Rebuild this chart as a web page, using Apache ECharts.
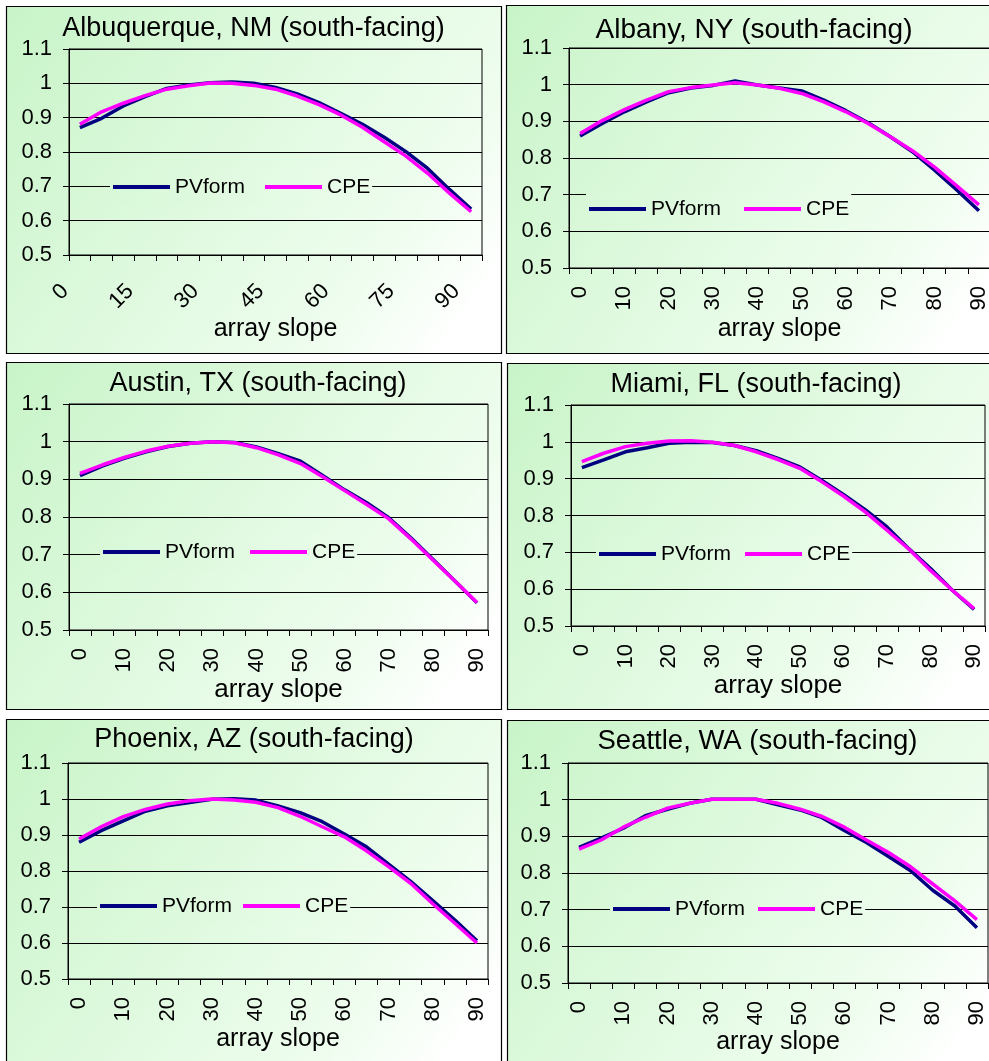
<!DOCTYPE html>
<html>
<head>
<meta charset="utf-8">
<script src="https://cdn.jsdelivr.net/npm/echarts@6/dist/echarts.min.js"></script>
<style>
html,body{margin:0;padding:0;background:#fff;overflow:hidden;}
#chart{width:989px;height:1061px;}
</style>
</head>
<body>
<div id="chart"></div>
<script>
// ---------- DATA ----------
const slopes = ['0','5','10','15','20','25','30','35','40','45','50','55','60','65','70','75','80','85','90'];
const seriesNames = ['PVform', 'CPE'];
const axisTitle = 'array slope';
const yTicks = [0.5, 0.6, 0.7, 0.8, 0.9, 1.0, 1.1];

const titleAlbuquerque = 'Albuquerque, NM (south-facing)';
const pvAlbuquerque  = [0.871,0.898,0.934,0.961,0.985,0.995,1.002,1.004,1.000,0.988,0.969,0.944,0.913,0.881,0.843,0.801,0.752,0.691,0.634];
const cpeAlbuquerque = [0.881,0.917,0.942,0.964,0.983,0.993,1.001,1.000,0.994,0.983,0.963,0.938,0.908,0.872,0.830,0.788,0.738,0.680,0.626];

const titleAlbany = 'Albany, NY (south-facing)';
const pvAlbany  = [0.860,0.894,0.926,0.953,0.978,0.991,0.998,1.010,0.999,0.991,0.983,0.958,0.929,0.896,0.858,0.817,0.767,0.713,0.656];
const cpeAlbany = [0.867,0.902,0.932,0.958,0.981,0.992,0.999,1.005,0.999,0.990,0.976,0.953,0.926,0.894,0.858,0.820,0.775,0.724,0.672];

const titleAustin = 'Austin, TX (south-facing)';
const pvAustin  = [0.910,0.935,0.956,0.973,0.987,0.996,1.000,0.998,0.986,0.968,0.948,0.910,0.872,0.838,0.798,0.745,0.688,0.630,0.572];
const cpeAustin = [0.916,0.938,0.958,0.975,0.988,0.996,1.000,0.997,0.984,0.965,0.942,0.907,0.870,0.833,0.795,0.742,0.686,0.630,0.573];

const titleMiami = 'Miami, FL (south-facing)';
const pvMiami  = [0.930,0.951,0.973,0.984,0.996,0.999,0.998,0.990,0.976,0.955,0.932,0.896,0.857,0.816,0.769,0.710,0.656,0.597,0.545];
const cpeMiami = [0.946,0.969,0.987,0.996,1.002,1.003,0.999,0.990,0.973,0.952,0.928,0.892,0.853,0.810,0.760,0.709,0.651,0.597,0.547];

const titlePhoenix = 'Phoenix, AZ (south-facing)';
const pvPhoenix  = [0.880,0.912,0.939,0.966,0.981,0.990,0.999,1.001,0.997,0.981,0.962,0.937,0.903,0.867,0.819,0.771,0.718,0.664,0.606];
const cpePhoenix = [0.889,0.923,0.951,0.971,0.986,0.995,1.000,0.997,0.991,0.976,0.952,0.923,0.895,0.856,0.812,0.766,0.709,0.655,0.600];

const titleSeattle = 'Seattle, WA (south-facing)';
const pvSeattle  = [0.870,0.895,0.922,0.956,0.974,0.990,1.001,1.001,1.001,0.986,0.972,0.951,0.916,0.883,0.845,0.806,0.753,0.710,0.651];
const cpeSeattle = [0.865,0.890,0.925,0.952,0.977,0.990,1.001,1.001,1.001,0.990,0.974,0.954,0.925,0.890,0.856,0.817,0.770,0.724,0.673];

// ---------- LAYOUT / STYLE ----------
const FONT = "'Liberation Sans', Arial, sans-serif";
const PV_COLOR = '#000080';
const CPE_COLOR = '#ff00ff';
const panelStops = [[0,'#c8f4c8'],[0.4,'#ddf9dd'],[0.75,'#effdef'],[0.92,'#ffffff'],[1,'#ffffff']];

const panels = [
  {title:titleAlbuquerque, pv:pvAlbuquerque, cpe:cpeAlbuquerque, titleSize:27,
   box:[6,6,495,347], grid:[69,49,413,206], titleX:253.5, titleTop:15,
   labelInterval:2, labelRotate:45, labelMargin:18, labelPad:[0,21,0,0], nameGap:62, nameSize:25,
   legendX:113, legendCY:187, legendGap:20},
  {title:titleAlbany, pv:pvAlbany, cpe:cpeAlbany, titleSize:28,
   box:[506,5,495,348], grid:[569,48,421,220], titleX:754, titleTop:16,
   labelInterval:1, labelRotate:90, labelMargin:18, labelPad:0, nameGap:49, nameSize:25,
   legendX:589, legendCY:209, legendGap:23},
  {title:titleAustin, pv:pvAustin, cpe:cpeAustin, titleSize:27,
   box:[6,362,495,347], grid:[69,404,419,226], titleX:258, titleTop:370,
   labelInterval:1, labelRotate:90, labelMargin:18, labelPad:0, nameGap:42, nameSize:26,
   legendX:103, legendCY:552, legendGap:15},
  {title:titleMiami, pv:pvMiami, cpe:cpeMiami, titleSize:27,
   box:[507,363,495,346], grid:[571,405,414,221], titleX:756, titleTop:371,
   labelInterval:1, labelRotate:90, labelMargin:18, labelPad:0, nameGap:46, nameSize:26,
   legendX:599, legendCY:554, legendGap:14},
  {title:titlePhoenix, pv:pvPhoenix, cpe:cpePhoenix, titleSize:27,
   box:[6,719,495,350], grid:[68,763,420,216], titleX:254, titleTop:726,
   labelInterval:1, labelRotate:90, labelMargin:18, labelPad:0, nameGap:48, nameSize:25,
   legendX:100, legendCY:906, legendGap:11},
  {title:titleSeattle, pv:pvSeattle, cpe:cpeSeattle, titleSize:27.5,
   box:[507,720,495,350], grid:[568,763,420,220], titleX:757.5, titleTop:727,
   labelInterval:1, labelRotate:90, labelMargin:18, labelPad:0, nameGap:44, nameSize:25,
   legendX:613, legendCY:909, legendGap:13}
];

function hexToRgb(h){return [parseInt(h.substr(1,2),16),parseInt(h.substr(3,2),16),parseInt(h.substr(5,2),16)];}
function stopColor(t){
  t = Math.max(0, Math.min(1, t));
  for (let i = 1; i < panelStops.length; i++) {
    if (t <= panelStops[i][0]) {
      const a = panelStops[i-1], b = panelStops[i];
      const f = (t - a[0]) / ((b[0] - a[0]) || 1);
      const ca = hexToRgb(a[1]), cb = hexToRgb(b[1]);
      return 'rgb(' + ca.map((v,k)=>Math.round(v + (cb[k]-v)*f)).join(',') + ')';
    }
  }
  return panelStops[panelStops.length-1][1];
}
function colorAt(box, px, py){
  const [x0,y0,w,h] = box;
  const t = ((px-x0)*w + (py-y0)*h) / (w*w + h*h);
  return stopColor(t);
}
function panelGradient(){
  return {type:'linear', x:0, y:0, x2:1, y2:1,
    colorStops: panelStops.map(s=>({offset:s[0], color:s[1]}))};
}

const option = {
  animation:false,
  backgroundColor:'#ffffff',
  graphic:[], title:[], legend:[], grid:[], xAxis:[], yAxis:[], series:[]
};

panels.forEach((p, i) => {
  const [bx,by,bw,bh] = p.box;
  option.graphic.push({
    type:'rect', z:-10, silent:true,
    shape:{x:bx+0.5, y:by+0.5, width:bw, height:bh},
    style:{fill:panelGradient(), stroke:'#000', lineWidth:1.2}
  });
  option.title.push({
    text:p.title, left:p.titleX, top:p.titleTop, textAlign:'center', padding:0,
    textStyle:{fontFamily:FONT, fontSize:p.titleSize, fontWeight:'normal', color:'#000'}
  });
  const [gl,gt,gw,gh] = p.grid;
  option.grid.push({left:gl, top:gt, width:gw, height:gh, show:true,
    borderColor:'#000', borderWidth:1, backgroundColor:'transparent',
    containLabel:false, outerBoundsMode:'none'});
  option.xAxis.push({
    type:'category', gridIndex:i, data:slopes, boundaryGap:true,
    name:axisTitle, nameLocation:'middle', nameGap:p.nameGap,
    nameTextStyle:{fontFamily:FONT, fontSize:p.nameSize, color:'#000'},
    axisLine:{show:true, lineStyle:{color:'#000', width:1}},
    axisTick:{show:true, interval:0, length:6, inside:false, lineStyle:{color:'#000', width:1}},
    axisLabel:{interval:p.labelInterval, rotate:p.labelRotate, margin:p.labelMargin,
      padding:p.labelPad, fontFamily:FONT, fontSize:22, color:'#000', hideOverlap:false},
    splitLine:{show:false}
  });
  option.yAxis.push({
    type:'value', gridIndex:i, min:yTicks[0], max:yTicks[yTicks.length-1], interval:0.1,
    axisLine:{show:true, lineStyle:{color:'#000', width:1}},
    axisTick:{show:true, length:6, inside:false, lineStyle:{color:'#000', width:1}},
    axisLabel:{margin:17, fontFamily:FONT, fontSize:22, color:'#000',
      formatter:v=>String(Math.round(v*10)/10)},
    splitLine:{show:true, lineStyle:{color:'#000', width:1}}
  });
  option.series.push({
    name:seriesNames[0], type:'line', xAxisIndex:i, yAxisIndex:i, data:p.pv,
    symbol:'none', smooth:false, color:PV_COLOR,
    lineStyle:{color:PV_COLOR, width:3.5}, itemStyle:{color:PV_COLOR}, z:3
  });
  option.series.push({
    name:seriesNames[1], type:'line', xAxisIndex:i, yAxisIndex:i, data:p.cpe,
    symbol:'none', smooth:false, color:CPE_COLOR,
    lineStyle:{color:CPE_COLOR, width:3.5}, itemStyle:{color:CPE_COLOR}, z:4
  });
  // legend with a background matching the panel gradient at its place
  const padT = 8, padB = 8, padL = 3, padR = 2;
  const legW = 57 + 5 + 70 + p.legendGap + 57 + 5 + 42 + padL + padR;
  const lx0 = p.legendX - padL, lx1 = lx0 + legW;
  option.legend.push({
    show:true, orient:'horizontal', left:lx0, top:p.legendCY - 10.5 - padT,
    padding:[padT,padR,padB,padL], itemGap:p.legendGap,
    itemWidth:57, itemHeight:4, icon:'rect',
    data:seriesNames.map(n=>({name:n, icon:'rect'})),
    textStyle:{fontFamily:FONT, fontSize:21, color:'#000', lineHeight:21},
    selectedMode:false,
    backgroundColor:{type:'linear', x:0, y:0, x2:1, y2:0, colorStops:[
      {offset:0, color:colorAt(p.box, lx0, p.legendCY)},
      {offset:1, color:colorAt(p.box, lx1, p.legendCY)}
    ]},
    borderWidth:0, z:5
  });
});

const chart = echarts.init(document.getElementById('chart'), null, {renderer:'canvas'});
chart.setOption(option);
</script>
</body>
</html>
